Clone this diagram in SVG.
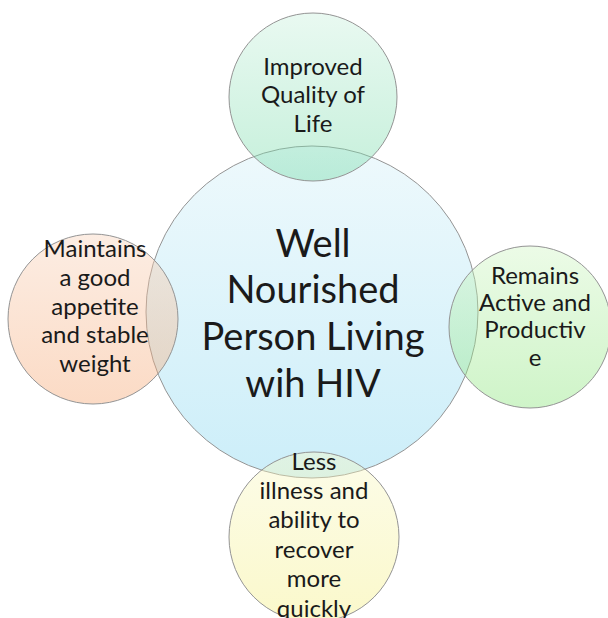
<svg xmlns="http://www.w3.org/2000/svg" width="608" height="618" viewBox="0 0 608 618">
<style>
.c{stroke:#949494;stroke-width:1}
.t{font-family:Lato,"Liberation Sans",sans-serif;fill:#1a1a1a;text-anchor:middle}
.s{font-size:24px}
.b{font-size:38px}
</style>
<defs>
<linearGradient id="gC" x1="0" y1="0" x2="0" y2="1"><stop offset="0" stop-color="#eef9fc"/><stop offset="1" stop-color="#cceef9"/></linearGradient>
<linearGradient id="gT" x1="0" y1="0" x2="0" y2="1"><stop offset="0" stop-color="#c8f0dc"/><stop offset="1" stop-color="#6fd9a4"/></linearGradient>
<linearGradient id="gR" x1="0" y1="0" x2="0" y2="1"><stop offset="0" stop-color="#cff5c2"/><stop offset="1" stop-color="#86e476"/></linearGradient>
<linearGradient id="gL" x1="0" y1="0" x2="0" y2="1"><stop offset="0" stop-color="#f8d2b9"/><stop offset="1" stop-color="#f6a46e"/></linearGradient>
<linearGradient id="gB" x1="0" y1="0" x2="0" y2="1"><stop offset="0" stop-color="#f8f8c6"/><stop offset="1" stop-color="#f4ee7c"/></linearGradient>
</defs>
<rect width="608" height="618" fill="#ffffff"/>
<g id="connectors"></g>
<g id="center">
<circle class="c" cx="312" cy="312" r="166" fill="url(#gC)"/>
<text class="t b" x="313" y="257">Well</text>
<text class="t b" x="313" y="303">Nourished</text>
<text class="t b" x="313" y="350">Person Living</text>
<text class="t b" x="313" y="397">wih HIV</text>
</g>
<g id="top">
<circle class="c" cx="313" cy="97" r="84" fill="url(#gT)" fill-opacity="0.4"/>
<text class="t s" x="313" y="75">Improved</text>
<text class="t s" x="313" y="103">Quality of</text>
<text class="t s" x="313" y="132">Life</text>
</g>
<g id="right">
<circle class="c" cx="530" cy="327" r="81" fill="url(#gR)" fill-opacity="0.4"/>
<text class="t s" x="535" y="284">Remains</text>
<text class="t s" x="535" y="311">Active and</text>
<text class="t s" x="535" y="338">Productiv</text>
<text class="t s" x="535" y="366">e</text>
</g>
<g id="left">
<circle class="c" cx="93" cy="319" r="85" fill="url(#gL)" fill-opacity="0.4"/>
<text class="t s" x="95" y="257">Maintains</text>
<text class="t s" x="95" y="286">a good</text>
<text class="t s" x="95" y="315">appetite</text>
<text class="t s" x="95" y="343">and stable</text>
<text class="t s" x="95" y="372">weight</text>
</g>
<g id="bottom">
<circle class="c" cx="314" cy="537" r="85" fill="url(#gB)" fill-opacity="0.4"/>
<text class="t s" x="314" y="470">Less</text>
<text class="t s" x="314" y="499">illness and</text>
<text class="t s" x="314" y="528">ability to</text>
<text class="t s" x="314" y="558">recover</text>
<text class="t s" x="314" y="587">more</text>
<text class="t s" x="314" y="617">quickly</text>
</g>
</svg>
